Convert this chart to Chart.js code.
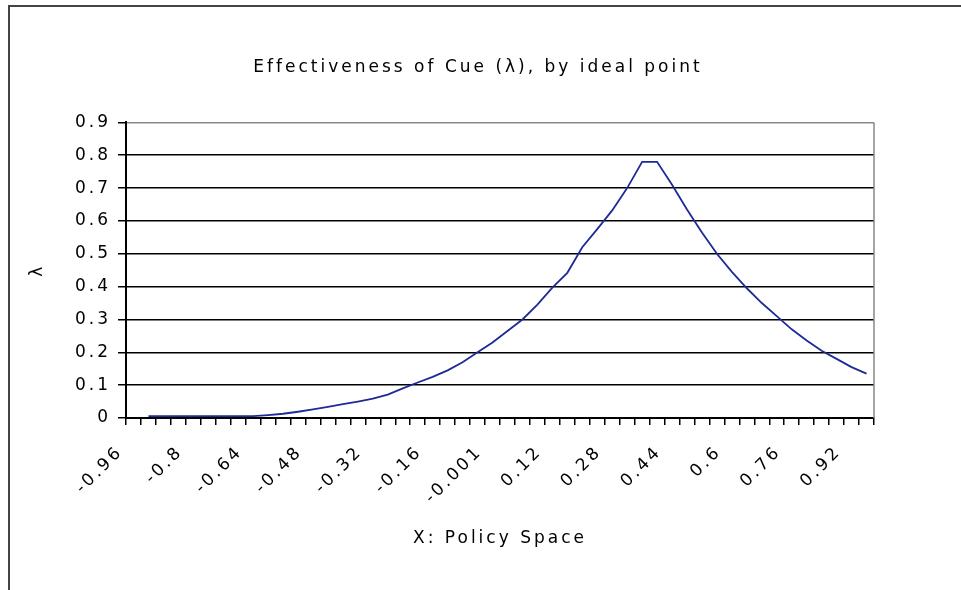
<!DOCTYPE html>
<html>
<head>
<meta charset="utf-8">
<script src="https://cdn.jsdelivr.net/npm/chart.js@4.4.1/dist/chart.umd.min.js"></script>
<style>
  html, body { margin: 0; padding: 0; background: #fff; overflow: hidden; }
  #wrap { position: relative; width: 961px; height: 590px; }
  #frame { position: absolute; left: 8px; top: 5px; width: 1000px; height: 700px;
           border-left: 2px solid #444; border-top: 2px solid #444; }
  #chart { position: absolute; left: 0; top: 0; }
</style>
</head>
<body>
<div id="wrap">
  <div id="frame"></div>
  <canvas id="chart" width="961" height="590"></canvas>
</div>
<script>
// Policy space categories (as in the original sheet)
const policyX = ['-0.96', '-0.92', '-0.88', '-0.84', '-0.8', '-0.76', '-0.72', '-0.68', '-0.64', '-0.6',
                 '-0.56', '-0.52', '-0.48', '-0.44', '-0.4', '-0.36', '-0.32', '-0.28', '-0.24', '-0.2',
                 '-0.16', '-0.12', '-0.08', '-0.04', '-0.001', '0.001', '0.04', '0.08', '0.12', '0.16',
                 '0.2', '0.24', '0.28', '0.32', '0.36', '0.4', '0.44', '0.48', '0.52', '0.56',
                 '0.6', '0.64', '0.68', '0.72', '0.76', '0.8', '0.84', '0.88', '0.92', '0.96'];

// Labels that are actually printed on the x axis
const shownTicks = ['-0.96', '-0.8', '-0.64', '-0.48', '-0.32', '-0.16', '-0.001',
                    '0.12', '0.28', '0.44', '0.6', '0.76', '0.92'];

// Effectiveness of cue (lambda)
const lambdaValues = [null, 0.006, 0.006, 0.006, 0.006, 0.006, 0.006, 0.006, 0.006, 0.009,
                      0.013, 0.019, 0.026, 0.034, 0.042, 0.05, 0.059, 0.071, 0.09, 0.108,
                      0.125, 0.145, 0.17, 0.2, 0.23, 0.265, 0.3, 0.345, 0.397, 0.442,
                      0.52, 0.575, 0.632, 0.7, 0.78, 0.78, 0.71, 0.635, 0.565, 0.5,
                      0.445, 0.395, 0.35, 0.31, 0.27, 0.236, 0.205, 0.18, 0.155, 0.135];

const fontFamily = "'DejaVu Sans', Verdana, sans-serif";
const LETTER_SPACING = '3px';
const baseFont = { family: fontFamily, size: 17, weight: 'normal' };

// canvas letterSpacing gets reset on resize, so set it before layout and draw
const spacingPlugin = {
    id: 'spacing',
    beforeLayout(chart) { chart.ctx.letterSpacing = LETTER_SPACING; },
    afterLayout(chart) {
        // the original title sits a bit right of the canvas centre
        if (chart.titleBlock) {
            chart.titleBlock.left += 36;
            chart.titleBlock.right += 36;
        }
    },
    beforeDraw(chart) { chart.ctx.letterSpacing = LETTER_SPACING; },
    afterDraw(chart) {
        // grey right edge of plot area
        const { ctx, chartArea } = chart;
        ctx.save();
        ctx.strokeStyle = '#888';
        ctx.lineWidth = 1.5;
        ctx.beginPath();
        ctx.moveTo(chartArea.right, chartArea.top);
        ctx.lineTo(chartArea.right, chartArea.bottom);
        ctx.stroke();
        ctx.restore();
    }
};

const ctx = document.getElementById('chart').getContext('2d');
const chart = new Chart(ctx, {
    type: 'line',
    data: {
        labels: policyX,
        datasets: [{
            data: lambdaValues,
            borderColor: '#1e2a96',
            borderWidth: 1.8,
            pointRadius: 0,
            tension: 0,
            fill: false
        }]
    },
    options: {
        responsive: false,
        animation: false,
        layout: { padding: { left: 10, right: 87, top: 0, bottom: 0 } },
        plugins: {
            legend: { display: false },
            tooltip: { enabled: false },
            title: {
                display: true,
                text: 'Effectiveness of Cue (λ), by ideal point',
                color: '#000',
                font: baseFont,
                padding: { top: 57, bottom: 45 }
            }
        },
        scales: {
            x: {
                type: 'category',
                offset: true,
                grid: { offset: true, drawOnChartArea: false, drawTicks: true, tickLength: 7,
                        color: '#000', lineWidth: 1.5 },
                border: { color: '#000', width: 2 },
                ticks: {
                    autoSkip: false,
                    minRotation: 45,
                    maxRotation: 45,
                    padding: 17,
                    labelOffset: -13,
                    color: '#000',
                    font: baseFont,
                    callback: function(value, index) {
                        const lab = policyX[index];
                        return shownTicks.includes(lab) ? lab : '';
                    }
                },
                title: {
                    display: true,
                    text: 'X: Policy Space',
                    color: '#000',
                    font: baseFont,
                    padding: { top: 0, bottom: 41 }
                },
                afterFit: function(scale) { scale.height = 172; }
            },
            y: {
                min: 0,
                max: 0.9,
                grid: {
                    color: c => (c.tick && c.tick.value > 0.85) ? '#888' : '#000',
                    tickColor: '#000',
                    lineWidth: 1.5,
                    tickLength: 8
                },
                border: { color: '#000', width: 2 },
                ticks: {
                    stepSize: 0.1,
                    padding: 7,
                    color: '#000',
                    font: baseFont,
                    callback: v => String(+v.toFixed(1))
                },
                title: {
                    display: true,
                    text: 'λ',
                    color: '#000',
                    font: baseFont,
                    padding: { top: 17, bottom: 0 }
                },
                afterFit: function(scale) { scale.width = 116; }
            }
        }
    },
    plugins: [spacingPlugin]
});
</script>
</body>
</html>
